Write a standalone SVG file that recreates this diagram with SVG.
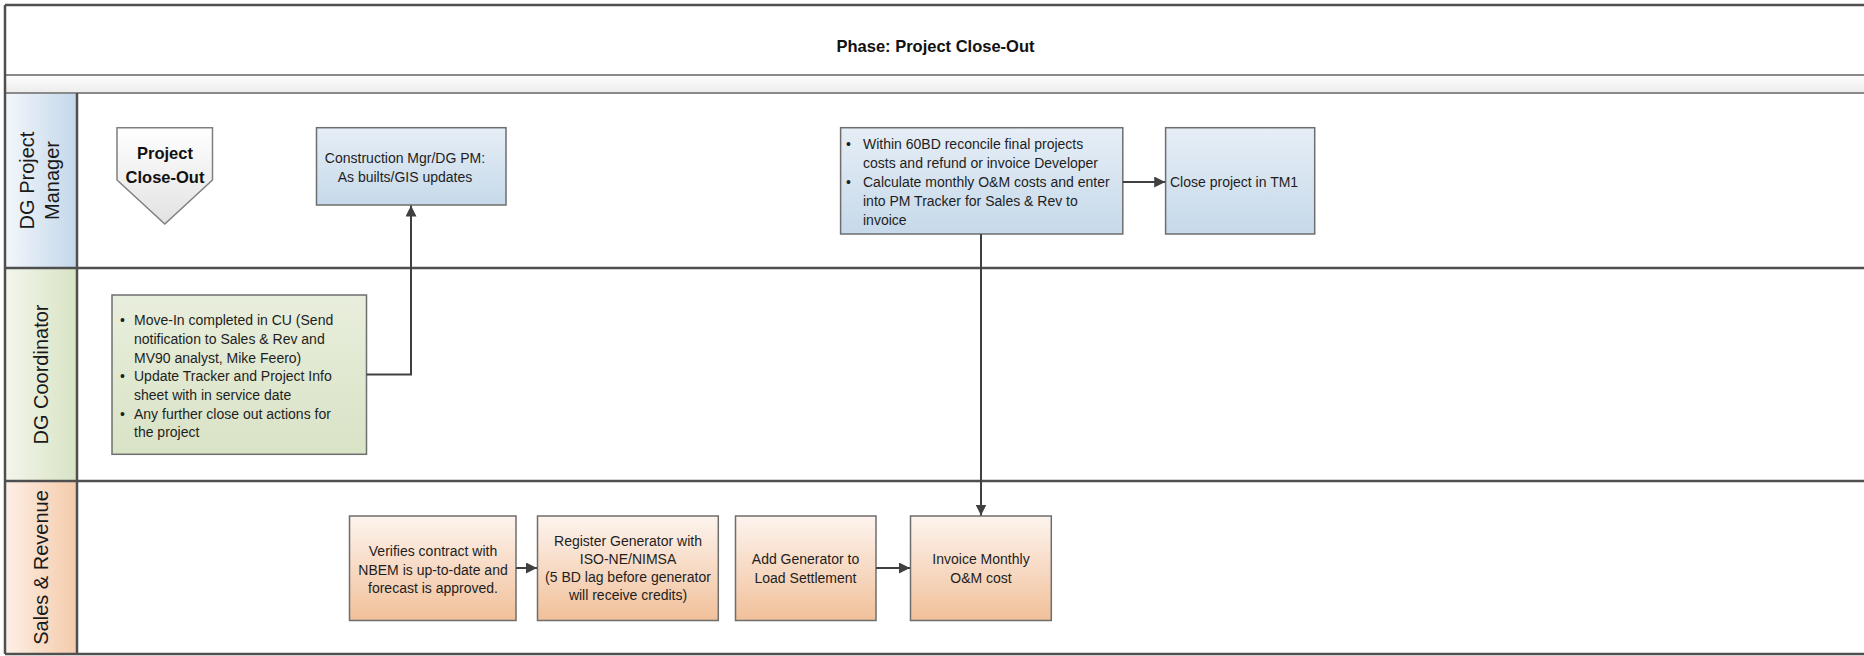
<svg xmlns="http://www.w3.org/2000/svg" width="1864" height="656" viewBox="0 0 1864 656">
  <defs>
    <linearGradient id="gBand" x1="0" y1="0" x2="0" y2="1">
      <stop offset="0" stop-color="#fdfdfd"/>
      <stop offset="1" stop-color="#ececec"/>
    </linearGradient>
    <linearGradient id="gHdrBlue" x1="0" y1="0" x2="1" y2="0">
      <stop offset="0" stop-color="#f3f7fb"/>
      <stop offset="1" stop-color="#c3d7ea"/>
    </linearGradient>
    <linearGradient id="gHdrGreen" x1="0" y1="0" x2="1" y2="0">
      <stop offset="0" stop-color="#f3f6ec"/>
      <stop offset="1" stop-color="#d8e3c3"/>
    </linearGradient>
    <linearGradient id="gHdrOrange" x1="0" y1="0" x2="1" y2="0">
      <stop offset="0" stop-color="#fdefe5"/>
      <stop offset="1" stop-color="#f4cbab"/>
    </linearGradient>
    <linearGradient id="gBlue" x1="0" y1="0" x2="0" y2="1">
      <stop offset="0" stop-color="#e6eef6"/>
      <stop offset="1" stop-color="#c6d9ea"/>
    </linearGradient>
    <linearGradient id="gOrange" x1="0" y1="0" x2="0" y2="1">
      <stop offset="0" stop-color="#fdf4ee"/>
      <stop offset="1" stop-color="#f1c09a"/>
    </linearGradient>
    <linearGradient id="gGreen" x1="0" y1="0" x2="0" y2="1">
      <stop offset="0" stop-color="#e8eedc"/>
      <stop offset="1" stop-color="#d9e3c6"/>
    </linearGradient>
    <linearGradient id="gStart" x1="0" y1="0" x2="0" y2="1">
      <stop offset="0" stop-color="#ffffff"/>
      <stop offset="1" stop-color="#e2e2e2"/>
    </linearGradient>
    <marker id="arrow" markerUnits="userSpaceOnUse" markerWidth="12" markerHeight="11" refX="11" refY="5.5" orient="auto">
      <path d="M0,0 L11,5.5 L0,11 z" fill="#404040"/>
    </marker>
  </defs>
  <style>
    .frame { stroke: #4f4f4f; stroke-width: 2.5; fill: none; }
    .thin { stroke: #8a8a8a; stroke-width: 2; fill: none; }
    .box { stroke: #6e6e6e; stroke-width: 1.5; }
    .lbl { font-family: "Liberation Sans", Arial, sans-serif; font-size: 14px; fill: #1e1e1e; }
    .mid { text-anchor: middle; }
    .bold { font-weight: bold; fill: #111; }
    .lane { font-family: "Liberation Sans", Arial, sans-serif; font-size: 20px; fill: #1a1a1a; text-anchor: middle; }
    .conn { stroke: #404040; stroke-width: 2; fill: none; marker-end: url(#arrow); }
  </style>

  <rect width="1864" height="656" fill="#ffffff"/>

  <!-- pool frame: title, separator band, swimlanes -->
  <g id="pool">
    <rect x="5" y="75" width="1862" height="18" fill="url(#gBand)"/>
    <rect x="5" y="93" width="72" height="175" fill="url(#gHdrBlue)"/>
    <rect x="5" y="268" width="72" height="213" fill="url(#gHdrGreen)"/>
    <rect x="5" y="481" width="72" height="173" fill="url(#gHdrOrange)"/>
    <line class="thin" x1="5" y1="75" x2="1864" y2="75"/>
    <line class="thin" x1="5" y1="93" x2="1864" y2="93"/>
    <line class="frame" x1="5" y1="5" x2="1864" y2="5"/>
    <line class="frame" x1="5" y1="268" x2="1864" y2="268"/>
    <line class="frame" x1="5" y1="481" x2="1864" y2="481"/>
    <line class="frame" x1="5" y1="654" x2="1864" y2="654"/>
    <line class="frame" x1="5" y1="5" x2="5" y2="654"/>
    <line class="frame" x1="77" y1="93" x2="77" y2="654"/>
    <text class="lbl bold mid" x="935.5" y="51.5" style="font-size:16.5px">Phase: Project Close-Out</text>
  </g>

  <g id="lane-dg-pm">
    <g transform="translate(0,180.5) rotate(-90)">
      <text class="lane" x="0" y="34">DG Project</text>
      <text class="lane" x="0" y="59">Manager</text>
    </g>
  </g>
  <g id="lane-dg-coord">
    <text class="lane" transform="translate(48,374.5) rotate(-90)">DG Coordinator</text>
  </g>
  <g id="lane-sales">
    <text class="lane" transform="translate(48,567.5) rotate(-90)">Sales &amp; Revenue</text>
  </g>

  <!-- process nodes -->
  <g id="start">
    <polygon points="117,127.7 212.5,127.7 212.5,180 164.8,224 117,180" fill="url(#gStart)" stroke="#7f7f7f" stroke-width="1.5"/>
    <text class="lbl bold mid" x="165" y="159" style="font-size:16.5px">Project</text>
    <text class="lbl bold mid" x="165" y="183" style="font-size:16.5px">Close-Out</text>
  </g>

  <g id="as-builts">
    <rect class="box" x="316.5" y="127.7" width="189.5" height="77.3" fill="url(#gBlue)"/>
    <text class="lbl mid" x="405" y="163">Construction Mgr/DG PM:</text>
    <text class="lbl mid" x="405" y="182">As builts/GIS updates</text>
  </g>

  <g id="reconcile">
    <rect class="box" x="840.6" y="127.7" width="282.2" height="106.3" fill="url(#gBlue)"/>
    <text class="lbl" x="846" y="149">•</text>
    <text class="lbl" x="863" y="149">Within 60BD reconcile final projects</text>
    <text class="lbl" x="863" y="168">costs and refund or invoice Developer</text>
    <text class="lbl" x="846" y="187">•</text>
    <text class="lbl" x="863" y="187">Calculate monthly O&amp;M costs and enter</text>
    <text class="lbl" x="863" y="206">into PM Tracker for Sales &amp; Rev to</text>
    <text class="lbl" x="863" y="224.5">invoice</text>
  </g>

  <g id="close-tm1">
    <rect class="box" x="1165.6" y="127.7" width="149.1" height="106.3" fill="url(#gBlue)"/>
    <text class="lbl" x="1170" y="187">Close project in TM1</text>
  </g>

  <g id="move-in">
    <rect class="box" x="112" y="295" width="254.5" height="159.3" fill="url(#gGreen)"/>
    <text class="lbl" x="120" y="325">•</text>
    <text class="lbl" x="134" y="325">Move-In completed in CU (Send</text>
    <text class="lbl" x="134" y="344">notification to Sales &amp; Rev and</text>
    <text class="lbl" x="134" y="362.5">MV90 analyst, Mike Feero)</text>
    <text class="lbl" x="120" y="381">•</text>
    <text class="lbl" x="134" y="381">Update Tracker and Project Info</text>
    <text class="lbl" x="134" y="400">sheet with in service date</text>
    <text class="lbl" x="120" y="418.5">•</text>
    <text class="lbl" x="134" y="418.5">Any further close out actions for</text>
    <text class="lbl" x="134" y="437">the project</text>
  </g>

  <g id="verify-contract">
    <rect class="box" x="349.5" y="516" width="166.5" height="104.5" fill="url(#gOrange)"/>
    <text class="lbl mid" x="433" y="556">Verifies contract with</text>
    <text class="lbl mid" x="433" y="574.5">NBEM is up-to-date and</text>
    <text class="lbl mid" x="433" y="593">forecast is approved.</text>
  </g>

  <g id="register-generator">
    <rect class="box" x="537.5" y="516" width="180.8" height="104.5" fill="url(#gOrange)"/>
    <text class="lbl mid" x="628" y="546">Register Generator with</text>
    <text class="lbl mid" x="628" y="564">ISO-NE/NIMSA</text>
    <text class="lbl mid" x="628" y="582">(5 BD lag before generator</text>
    <text class="lbl mid" x="628" y="600">will receive credits)</text>
  </g>

  <g id="load-settlement">
    <rect class="box" x="735.5" y="516" width="140.5" height="104.5" fill="url(#gOrange)"/>
    <text class="lbl mid" x="805.5" y="564">Add Generator to</text>
    <text class="lbl mid" x="805.5" y="583">Load Settlement</text>
  </g>

  <g id="invoice-om">
    <rect class="box" x="910.5" y="516" width="140.8" height="104.5" fill="url(#gOrange)"/>
    <text class="lbl mid" x="981" y="564">Invoice Monthly</text>
    <text class="lbl mid" x="981" y="583">O&amp;M cost</text>
  </g>

  <!-- flow connectors -->
  <g id="connectors">
    <path class="conn" d="M366.5,374.5 H411 V205.5"/>
    <path class="conn" d="M981,234 V515.5"/>
    <path class="conn" d="M1122.8,182 H1165.2"/>
    <path class="conn" d="M516,568 H537"/>
    <path class="conn" d="M876,568 H910"/>
  </g>
</svg>
